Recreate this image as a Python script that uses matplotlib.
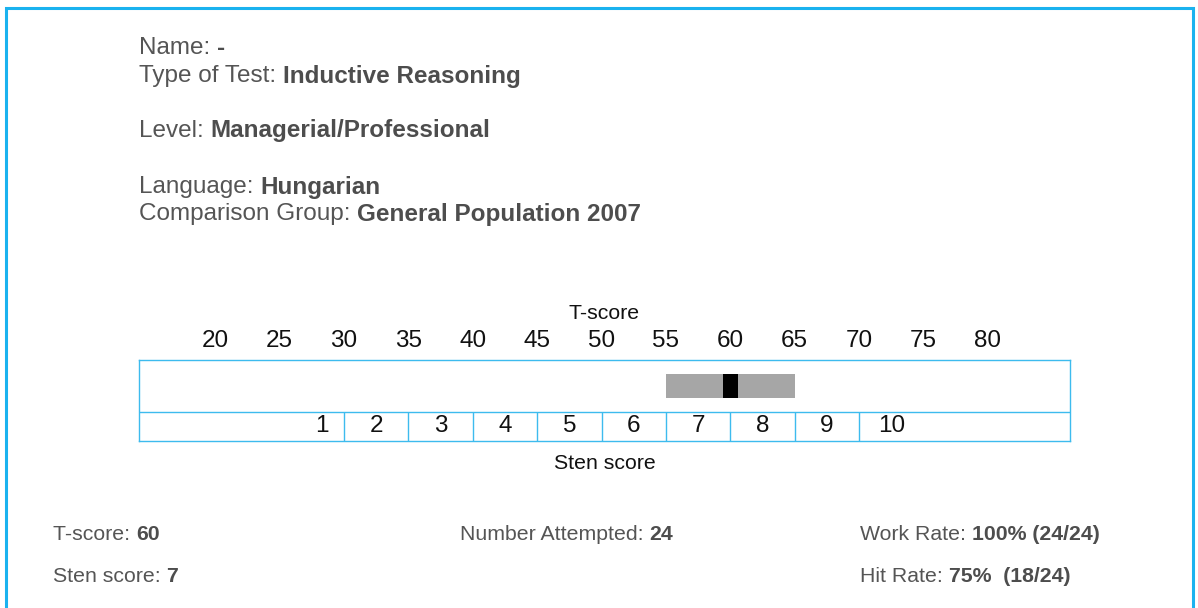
import matplotlib
matplotlib.use("Agg")
import matplotlib.pyplot as plt
import matplotlib.patches as patches

# report values
header_rows = [
    ("Name: ", "-"),
    ("Type of Test: ", "Inductive Reasoning"),
    ("Level: ", "Managerial/Professional"),
    ("Language: ", "Hungarian"),
    ("Comparison Group: ", "General Population 2007"),
]
t_ticks = [20, 25, 30, 35, 40, 45, 50, 55, 60, 65, 70, 75, 80]
sten_bounds = [30, 35, 40, 45, 50, 55, 60, 65, 70]
sten_labels = ["1", "2", "3", "4", "5", "6", "7", "8", "9", "10"]
sten_label_pos = [28.3, 32.5, 37.5, 42.5, 47.5, 52.5, 57.5, 62.5, 67.5, 72.5]
t_score = 60
t_band = (55, 65)
footer_rows = [
    ("T-score: ", "60"),
    ("Sten score: ", "7"),
    ("Number Attempted: ", "24"),
    ("Work Rate: ", "100% (24/24)"),
    ("Hit Rate: ", "75%  (18/24)"),
]

W, H = 1198, 608
BLUE = "#1ab2ef"
LINE = "#3dbbee"
TXT = "#555555"
plt.rcParams["font.family"] = ["Liberation Sans", "DejaVu Sans"]

fig = plt.figure(figsize=(W / 100, H / 100), dpi=100)
fig.patch.set_facecolor("white")

# outer frame (open at the bottom)
fig.add_artist(patches.Polygon([(5.5, 0), (5.5, H - 7.5), (W - 5.5, H - 7.5), (W - 5.5, 0)],
                               closed=False, fill=False, edgecolor=BLUE, linewidth=2.2,
                               transform=None))


def two_part(x, y, label, value, size, rend):
    # y = pixel row from the top of the image
    t1 = fig.text(x / W, 1 - y / H, label, fontsize=size, color=TXT, va="center", ha="left")
    bb = t1.get_window_extent(renderer=rend)
    fig.text(bb.x1 / W, 1 - y / H, value, fontsize=size, color="#4d4d4d",
             fontweight="bold", va="center", ha="left")


rend = fig.canvas.get_renderer()
header_y = [48, 76, 131, 187, 214]
for (lab, val), yy in zip(header_rows, header_y):
    two_part(139, yy, lab, val, 17.5, rend)

footer_xy = [(53, 535), (53, 577), (460, 535), (860, 535), (860, 577)]
for (lab, val), (xx, yy) in zip(footer_rows, footer_xy):
    two_part(xx, yy, lab, val, 15.3, rend)

# score scale
left, right, top, bottom = 139, 1070, 360, 441
ax = fig.add_axes([left / W, 1 - bottom / H, (right - left) / W, (bottom - top) / H])
px_per_t = (988 - 215) / 60
ax.set_xlim(20 - (215 - left) / px_per_t, 20 + (right - 215) / px_per_t)
ax.set_ylim(0, 1)
row_split = (bottom - 412) / (bottom - top)
for s in ax.spines.values():
    s.set_color(LINE)
    s.set_linewidth(1.0)
ax.axhline(row_split, color=LINE, linewidth=1.0)
ax.vlines(sten_bounds, 0, row_split, color=LINE, linewidth=1.0)

band_lo = 1 - (398 - top) / (bottom - top)
band_h = (398 - 374) / (bottom - top)
ax.barh(band_lo, t_band[1] - t_band[0], left=t_band[0], height=band_h, align="edge",
        color="#a6a6a6", edgecolor="none")
ax.barh(band_lo, 1.16, left=t_score - 0.58, height=band_h, align="edge",
        color="black", edgecolor="none")

for pos, lab in zip(sten_label_pos, sten_labels):
    ax.text(pos, row_split / 2, lab, fontsize=17.5, color="#111111", ha="center", va="center")

ax.xaxis.tick_top()
ax.set_xticks(t_ticks)
ax.set_xticklabels([str(t) for t in t_ticks], fontsize=17.5, color="#111111")
ax.tick_params(axis="x", length=0, pad=5.5)
ax.set_yticks([])
ax.xaxis.set_label_position("top")
ax.set_xlabel("T-score", fontsize=15.3, color="#111111", labelpad=8.5)
ax.text(0.5, -0.28, "Sten score", transform=ax.transAxes, fontsize=15.3,
        color="#111111", ha="center", va="center")

fig.savefig("out.png", dpi=100)
